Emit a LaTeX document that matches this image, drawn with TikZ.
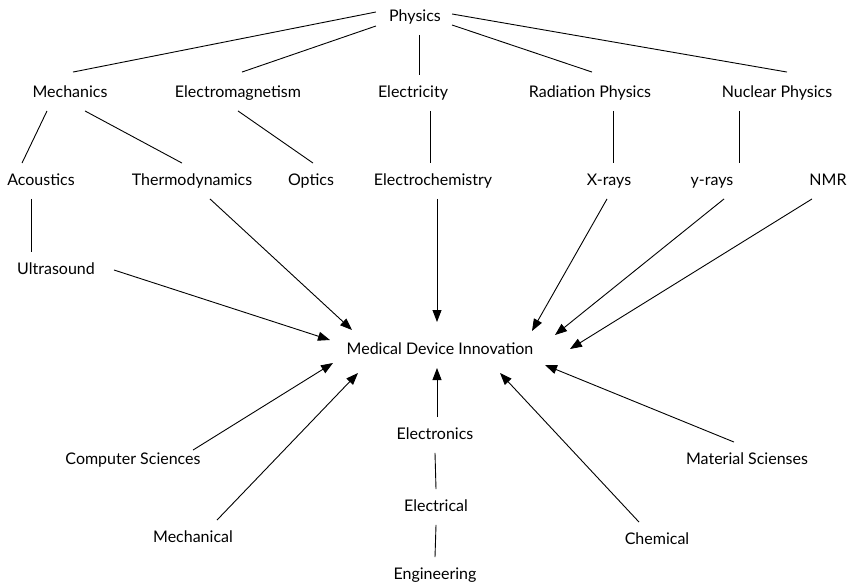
\documentclass[tikz,border=0pt]{standalone}
\usepackage{fontspec}
\setmainfont{Lato}
\usetikzlibrary{arrows.meta}
\begin{document}
\begin{tikzpicture}[x=1pt,y=-1pt,
  lbl/.style={inner xsep=4pt,inner ysep=10pt,text height=12pt,text depth=3.5pt,
    font=\fontsize{16}{18}\selectfont},
  link/.style={line width=0.9pt},
  feed/.style={line width=0.9pt,-{Triangle[length=12pt,width=9pt]}}]
\useasboundingbox (0,0) rectangle (864,586);

% top of the tree
\node[lbl] (phys) at (415,17) {Physics};

% branches of physics
\node[lbl] (mech) at (70,93)  {Mechanics};
\node[lbl] (emag) at (238,93) {Electromagnetism};
\node[lbl] (elec) at (413,93) {Electricity};
\node[lbl] (rad)  at (590,93) {Radiation Physics};
\node[lbl] (nuc)  at (777,93) {Nuclear Physics};

% sub-fields
\node[lbl] (acou)   at (41,181)  {Acoustics};
\node[lbl] (thermo) at (192,181) {Thermodynamics};
\node[lbl] (optics) at (311,181) {Optics};
\node[lbl] (echem)  at (433,181) {Electrochemistry};
\node[lbl] (xray)   at (609,181) {X-rays};
\node[lbl] (gray)   at (712,181) {y-rays};
\node[lbl] (nmr)    at (828,181) {NMR};
\node[lbl] (ultra)  at (56,270)  {Ultrasound};

% centre
\node[lbl] (mdi) at (440,350) {Medical Device Innovation};

% engineering side
\node[lbl] (etronics) at (435,435) {Electronics};
\node[lbl] (cs)       at (133,460) {Computer Sciences};
\node[lbl] (mat)      at (747,460) {Material Scienses};
\node[lbl] (etrical)  at (436,507) {Electrical};
\node[lbl] (mechl)    at (193,538) {Mechanical};
\node[lbl] (chem)     at (657,540) {Chemical};
\node[lbl] (eng)      at (435,575) {Engineering};

% tree lines
\draw[link] ([xshift=-9pt,yshift=5pt]phys.west) -- ([xshift=3pt,yshift=3pt]mech.north);
\draw[link] ([xshift=-9pt,yshift=-9pt]phys.west) -- ([xshift=4pt,yshift=3pt]emag.north);
\draw[link] ([xshift=4pt]phys.south) -- ([xshift=6pt]elec.north);
\draw[link] ([xshift=7pt,yshift=-8pt]phys.east) -- ([xshift=2pt,yshift=3pt]rad.north);
\draw[link] ([xshift=7pt,yshift=3pt]phys.east) -- ([xshift=10pt,yshift=3pt]nuc.north);
\draw[link] ([xshift=-23pt]mech.south) -- ([xshift=-19pt]acou.north);
\draw[link] ([xshift=15pt]mech.south) -- ([xshift=-10pt]thermo.north);
\draw[link] (emag.south) -- ([xshift=2pt]optics.north);
\draw[link] ([xshift=17pt]elec.south) -- ([xshift=-3pt]echem.north);
\draw[link] ([xshift=23pt]rad.south) -- ([xshift=4pt]xray.north);
\draw[link] ([xshift=-38pt]nuc.south) -- ([xshift=27pt]gray.north);
\draw[link] ([xshift=-10pt]acou.south) -- ([xshift=-25pt]ultra.north);
\draw[link] (etrical.north) -- (etronics.south);
\draw[link] (eng.north) -- (etrical.south);

% arrows into the centre
\draw[feed] ([xshift=18pt]thermo.south) -- ([xshift=-88pt,yshift=20pt]mdi.center);
\draw[feed] ([xshift=15pt]ultra.east) -- ([xshift=-110pt,yshift=10pt]mdi.center);
\draw[feed] ([xshift=60pt,yshift=-8pt]cs.north) -- ([xshift=-107pt,yshift=-13pt]mdi.center);
\draw[feed] ([xshift=24pt]mechl.north) -- ([xshift=-82pt,yshift=-23pt]mdi.center);
\draw[feed] ([xshift=4pt]echem.south) -- ([xshift=-3pt,yshift=28pt]mdi.center);
\draw[feed] ([xshift=2pt]etronics.north) -- ([xshift=-3pt,yshift=-18pt]mdi.center);
\draw[feed] ([xshift=-2pt]xray.south) -- ([xshift=92pt,yshift=19pt]mdi.center);
\draw[feed] ([xshift=12pt]gray.south) -- ([xshift=115pt,yshift=15pt]mdi.center);
\draw[feed] ([xshift=-16pt]nmr.south) -- ([xshift=130pt,yshift=1pt]mdi.center);
\draw[feed] ([xshift=-18pt]chem.north) -- ([xshift=60pt,yshift=-23pt]mdi.center);
\draw[feed] ([xshift=-13pt]mat.north) -- ([xshift=105pt,yshift=-15pt]mdi.center);
\end{tikzpicture}
\end{document}
